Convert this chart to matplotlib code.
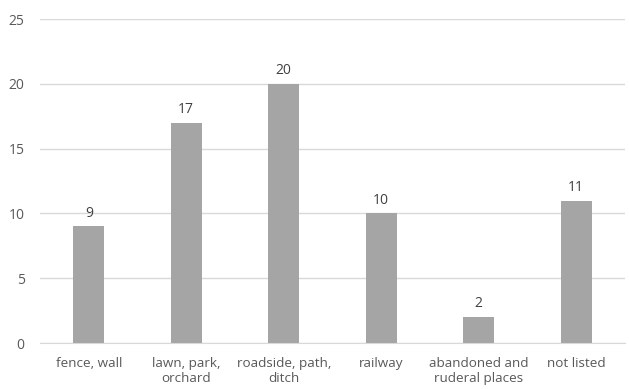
import matplotlib.pyplot as plt
import numpy as np

categories = ["fence, wall", "lawn, park,\norchard", "roadside, path,\nditch",
              "railway", "abandoned and\nruderal places", "not listed"]
counts = [9, 17, 20, 10, 2, 11]
y_ticks = [0, 5, 10, 15, 20, 25]

plt.rcParams['font.family'] = ['Open Sans', 'DejaVu Sans']
text_color = '#595959'

fig = plt.figure(figsize=(6.29, 3.89), dpi=100)
ax = fig.add_axes([0.0636, 0.118, 0.93, 0.833])

x = np.arange(len(categories))
bars = ax.bar(x, counts, width=0.32, color='#A5A5A5', zorder=3)

# value labels above each bar
for xi, v in zip(x, counts):
    ax.text(xi, v + 0.45, str(v), ha='center', va='bottom',
            fontsize=10, color='#404040')

ax.set_xlim(-0.5, len(categories) - 0.5)
ax.set_ylim(0, 25)
ax.set_yticks(y_ticks)
ax.yaxis.grid(True, color='#D9D9D9', linewidth=1, zorder=0)
ax.set_xticks(x)
ax.set_xticklabels(categories, fontsize=9.7, color=text_color, linespacing=1.25)
ax.tick_params(axis='y', labelsize=10, labelcolor=text_color, length=0, pad=11)
ax.tick_params(axis='x', length=0, pad=10)

for side in ['top', 'right', 'left']:
    ax.spines[side].set_visible(False)
ax.spines['bottom'].set_color('#D9D9D9')
ax.spines['bottom'].set_zorder(4)

fig.savefig('out.png', dpi=100)
